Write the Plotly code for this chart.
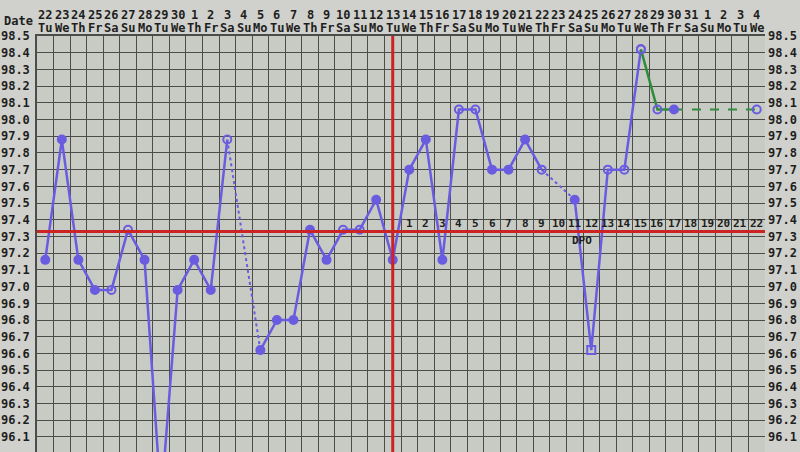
import plotly.graph_objects as go

# ---------------- data ----------------
day_labels = ["22", "23", "24", "25", "26", "27", "28", "29", "30",
              "1", "2", "3", "4", "5", "6", "7", "8", "9", "10", "11", "12", "13", "14", "15",
              "16", "17", "18", "19", "20", "21", "22", "23", "24", "25", "26", "27", "28",
              "29", "30", "31", "1", "2", "3", "4"]
weekday_labels = ["Tu", "We", "Th", "Fr", "Sa", "Su", "Mo", "Tu", "We",
                  "Th", "Fr", "Sa", "Su", "Mo", "Tu", "We", "Th", "Fr", "Sa", "Su", "Mo", "Tu",
                  "We", "Th", "Fr", "Sa", "Su", "Mo", "Tu", "We", "Th", "Fr", "Sa", "Su", "Mo",
                  "Tu", "We", "Th", "Fr", "Sa", "Su", "Mo", "Tu", "We"]

# temperatures (°F), Sep 22 .. Oct 28, None = no reading
temps = [97.16, 97.88, 97.16, 96.98, 96.98, 97.34, 97.16, 95.72, 96.98,
         97.16, 96.98, 97.88, None, 96.62, 96.80, 96.80, 97.34, 97.16, 97.34,
         97.34, 97.52, 97.16, 97.70, 97.88, 97.16, 98.06, 98.06, 97.70, 97.70,
         97.88, 97.70, None, 97.52, 96.62, 97.70, 97.70, 98.42]
# marker kind per day: f = filled, o = open circle, s = open square
marker_kind = ["f", "f", "f", "f", "o", "o", "f", "f", "f",
               "f", "f", "o", "f", "f", "f", "f", "f", "f", "o",
               "o", "f", "f", "f", "f", "f", "o", "o", "f", "f",
               "f", "o", "f", "f", "s", "o", "o", "o"]

green_idx = [36, 37, 38]
green_temps = [98.42, 98.06, 98.06]
green_kind = ["o", "o", "f"]
proj_idx = [38, 43]
proj_temps = [98.06, 98.06]

coverline = 97.33
ovulation_idx = 21          # Oct 13
dpo_start_idx = 22          # DPO 1 = Oct 14
dpo_labels = [str(i) for i in range(1, 23)]

y_ticks = [round(96.0 + 0.1 * k, 1) for k in range(26)]

# ---------------- style ----------------
BLUE = "#6a5ce0"
GREEN = "#2f8c3c"
RED = "#cc2424"
GRID = "#4c4d4a"
TXT = "#1e1e1e"
FONT = "DejaVu Sans Mono"

sym = {"f": "circle", "o": "circle-open", "s": "square-open"}

x_all = list(range(len(temps)))
fig = go.Figure()

# dotted connectors over missing days
for i, t in enumerate(temps):
    if t is None:
        a = i - 1
        b = i + 1
        while temps[b] is None:
            b += 1
        fig.add_trace(go.Scatter(x=[a, b], y=[temps[a], temps[b]], mode="lines",
                                 line=dict(color=BLUE, width=2, dash="dot"),
                                 hoverinfo="skip", showlegend=False))

fig.add_trace(go.Scatter(
    x=x_all, y=temps, mode="lines+markers", connectgaps=False,
    line=dict(color=BLUE, width=2.5),
    marker=dict(size=8, color=BLUE, symbol=[sym[k] for k in marker_kind],
                line=dict(color=BLUE, width=2)),
    showlegend=False))

fig.add_trace(go.Scatter(x=proj_idx, y=proj_temps, mode="lines",
                         line=dict(color=GREEN, width=2, dash="dash"),
                         showlegend=False))
fig.add_trace(go.Scatter(x=[proj_idx[-1]], y=[proj_temps[-1]], mode="markers",
                         marker=dict(size=8, color=BLUE, symbol="circle-open",
                                     line=dict(color=BLUE, width=2)),
                         showlegend=False))
fig.add_trace(go.Scatter(
    x=green_idx, y=green_temps, mode="lines",
    line=dict(color=GREEN, width=2.5), showlegend=False))
fig.add_trace(go.Scatter(
    x=green_idx, y=green_temps, mode="markers",
    marker=dict(size=8, color=BLUE, symbol=[sym[k] for k in green_kind],
                line=dict(color=BLUE, width=2)),
    showlegend=False))

# right-side axis dummy trace
fig.add_trace(go.Scatter(x=[0], y=[97.0], yaxis="y2", mode="markers",
                         marker=dict(opacity=0), hoverinfo="skip", showlegend=False))

H = 452
plot_top, plot_bottom = 36, 452
plot_left, plot_right = 37, 765
n = len(day_labels)


def py(pix):
    """pixel row from top -> paper y"""
    return (plot_bottom - pix) / (plot_bottom - plot_top)


def px(pix):
    return (pix - plot_left) / (plot_right - plot_left)


# coverline & ovulation line
fig.add_shape(type="line", xref="x", yref="y", x0=-0.5, x1=n - 0.5,
              y0=coverline, y1=coverline, line=dict(color=RED, width=3))
fig.add_shape(type="line", xref="x", yref="paper", x0=ovulation_idx, x1=ovulation_idx,
              y0=0, y1=1, line=dict(color=RED, width=3))

lab_font = dict(family=FONT, size=12, color=TXT, weight="bold")
ann = []
for i in range(n):
    ann.append(dict(x=i, y=py(15), xref="x", yref="paper", yanchor="middle",
                    text=day_labels[i], showarrow=False, font=lab_font))
    ann.append(dict(x=i, y=py(28), xref="x", yref="paper", yanchor="middle",
                    text=weekday_labels[i], showarrow=False, font=lab_font))
for k, lab in enumerate(dpo_labels):
    ann.append(dict(x=dpo_start_idx + k, y=coverline, xref="x", yref="y",
                    yanchor="bottom", yshift=-1, text=lab, showarrow=False,
                    font=dict(family=FONT, size=11, color=TXT, weight="bold")))
ann.append(dict(x=32.45, y=coverline, xref="x", yref="y", yanchor="top", yshift=-1,
                text="DPO", showarrow=False,
                font=dict(family=FONT, size=11, color=TXT, weight="bold")))
ann.append(dict(x=px(18), y=py(21), xref="paper", yref="paper", text="Date",
                showarrow=False, xanchor="center", yanchor="middle", font=lab_font))

tick_font = dict(family=FONT, size=12, color=TXT, weight="bold")
fig.update_layout(
    annotations=ann,
    width=800, height=H,
    margin=dict(l=plot_left, r=800 - plot_right, t=plot_top, b=H - plot_bottom,
                autoexpand=False),
    paper_bgcolor="#d0d1cc",
    plot_bgcolor="#c8cbc3",
    xaxis=dict(range=[-0.5, n - 0.5], showticklabels=False, showgrid=False,
               zeroline=False, ticks="",
               minor=dict(tick0=-0.5, dtick=1, showgrid=True, gridcolor=GRID,
                          gridwidth=1.3, ticks=""),
               showline=True, mirror=True, linecolor=GRID, linewidth=1.5),
    yaxis=dict(range=[96.01, 98.5], tickvals=y_ticks,
               ticktext=[f"{v:.1f}" for v in y_ticks],
               showgrid=True, gridcolor=GRID, gridwidth=1.3, zeroline=False,
               ticks="", ticklabelstandoff=3, tickfont=tick_font,
               showline=True, linecolor=GRID, linewidth=1.5),
    yaxis2=dict(range=[96.01, 98.5], tickvals=y_ticks,
                ticktext=[f"{v:.1f}" for v in y_ticks],
                overlaying="y", side="right", showgrid=False, zeroline=False,
                ticks="", ticklabelstandoff=2, tickfont=tick_font),
    showlegend=False,
)

fig.write_html("out.html", config={"displayModeBar": False},
               post_script="document.body.style.margin='0';document.body.style.overflow='hidden';")
